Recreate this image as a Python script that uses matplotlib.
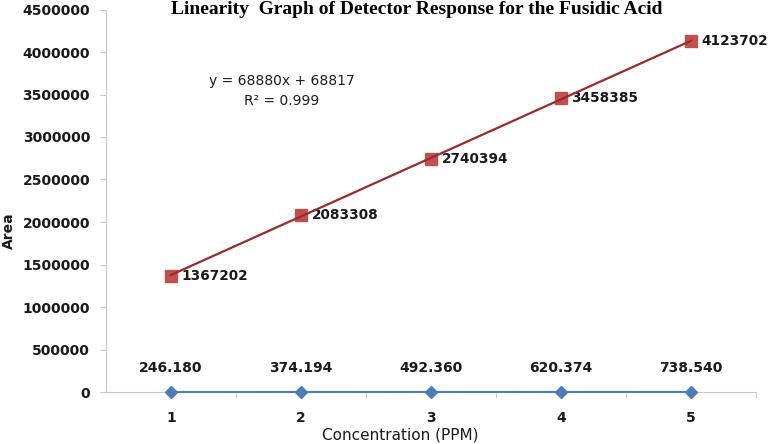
import matplotlib.pyplot as plt
import numpy as np

# data
conc = [1, 2, 3, 4, 5]
area = [1367202, 2083308, 2740394, 3458385, 4123702]
low_vals = [246.180, 374.194, 492.360, 620.374, 738.540]
low_labels = ['246.180', '374.194', '492.360', '620.374', '738.540']
yticks = [0, 500000, 1000000, 1500000, 2000000, 2500000, 3000000, 3500000, 4000000, 4500000]

plt.rcParams['font.family'] = ['DejaVu Sans']

fig = plt.figure(figsize=(7.69, 4.44), dpi=100)
# axes box in pixels: left 106, right 756, top 9.5, bottom 392
ax = fig.add_axes([106 / 769, 1 - 392 / 444, 650 / 769, 382.5 / 444])

# linear trendline through the area points
m, b = np.polyfit(conc, area, 1)
xs = np.array([conc[0], conc[-1]])
ax.plot(xs, m * xs + b, color='#9B2A2A', lw=1.6, zorder=4)
ax.plot(conc, area, ls='none', marker='s', ms=8.5, color='#C0504D', zorder=3)
for x, y in zip(conc, area):
    ax.annotate(str(y), (x, y), xytext=(7.5, 0), textcoords='offset points',
                ha='left', va='center', fontsize=9.8, fontweight='bold', color='#1a1a1a')

ax.plot(conc, low_vals, color='#4A7EBB', lw=1.5, marker='D', ms=6, zorder=3, clip_on=False)
for x, y, lab in zip(conc, low_vals, low_labels):
    ax.annotate(lab, (x, y), xytext=(0, 17), textcoords='offset points',
                ha='center', va='center', fontsize=10, fontweight='bold', color='#1a1a1a')

ax.text(1.854, 3541000, 'y = 68880x + 68817\nR² = 0.999', ha='center', va='center',
        fontsize=10, linespacing=1.5, color='#1a1a1a')

ax.set_xlim(0.5, 5.5)
ax.set_ylim(0, 4500000)
ax.set_yticks(yticks)
ax.set_yticklabels([str(t) for t in yticks], fontweight='bold')
ax.set_xticks(conc)
ax.set_xticklabels([str(c) for c in conc], fontweight='bold')
ax.set_xticks([1.5, 2.5, 3.5, 4.5, 5.5], minor=True)
ax.tick_params(axis='x', which='major', length=0, labelsize=10, pad=14, labelcolor='#1a1a1a')
ax.tick_params(axis='x', which='minor', length=4, color='#C8C8C8')
ax.tick_params(axis='y', length=4.5, color='#C8C8C8', labelsize=10, pad=7, labelcolor='#1a1a1a')

for s in ['top', 'right']:
    ax.spines[s].set_visible(False)
ax.spines['left'].set_color('#C8C8C8')
ax.spines['bottom'].set_color('#C8C8C8')

ax.set_xlabel('Concentration (PPM)', fontsize=11, color='#1a1a1a', va='center')
ax.xaxis.set_label_coords(0.452, -0.113)
ax.set_ylabel('Area', fontsize=10, fontweight='bold', color='#1a1a1a', va='center')
ax.yaxis.set_label_coords(-0.149, 0.421)

fig.text(417 / 769, 1 - 10 / 444, 'Linearity  Graph of Detector Response for the Fusidic Acid',
         ha='center', va='center', fontsize=14, fontweight='bold', family='Liberation Serif')

fig.savefig('out.png', dpi=100)
